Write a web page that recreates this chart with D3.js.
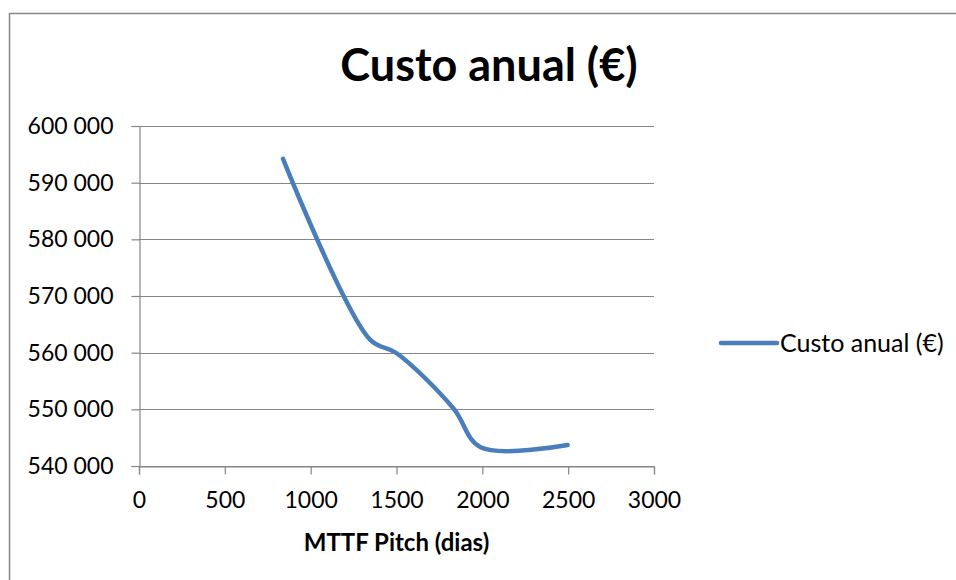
<!DOCTYPE html>
<html>
<head>
<meta charset="utf-8">
<script src="https://cdn.jsdelivr.net/npm/d3@7"></script>
<style>
  html, body { margin: 0; padding: 0; background: #fff; }
  svg { display: block; font-family: Lato, "Open Sans", "Liberation Sans", sans-serif; }
</style>
</head>
<body>
<svg id="chart" width="956" height="580"></svg>
<script>
// Annual cost as a function of the pitch system MTTF
const mttfDays = [839, 1346, 1501, 1831, 1990, 2497];
const annualCost = [594200, 562300, 559900, 550200, 543300, 543700];

const xTicks = [0, 500, 1000, 1500, 2000, 2500, 3000];
const yTicks = [540000, 550000, 560000, 570000, 580000, 590000, 600000];

const chartTitle = "Custo anual (€)";
const seriesName = "Custo anual (€)";
const xTitle = "MTTF Pitch (dias)";

const W = 956, H = 580;
const plot = { left: 139, right: 654, top: 126, bottom: 466 };
const gridColor = "#868686";
const lineColor = "#4a7ebb";

const svg = d3.select("#chart");

// outer chart frame (extends past the right and bottom edges)
svg.append("rect")
  .attr("x", 9.5).attr("y", 13.5)
  .attr("width", W + 20).attr("height", H + 20)
  .attr("fill", "none").attr("stroke", gridColor).attr("stroke-width", 1.5);

const x = d3.scaleLinear().domain([0, 3000]).range([plot.left, plot.right]);
const y = d3.scaleLinear().domain([540000, 600000]).range([plot.bottom, plot.top]);

const fmt = v => d3.format(",")(v).replace(/,/g, " ");

// horizontal gridlines
svg.append("g")
  .selectAll("line")
  .data(yTicks)
  .join("line")
  .attr("x1", plot.left).attr("x2", plot.right)
  .attr("y1", d => Math.round(y(d)) + 0.5).attr("y2", d => Math.round(y(d)) + 0.5)
  .attr("stroke", gridColor).attr("stroke-width", 1.2);

// y axis
const yAxis = svg.append("g")
  .attr("transform", `translate(${plot.left + 0.5},0)`)
  .call(d3.axisLeft(y).tickValues(yTicks).tickFormat(fmt).tickSize(8).tickPadding(18));
yAxis.select(".domain").attr("stroke", gridColor).attr("stroke-width", 1.2);
yAxis.selectAll(".tick line").attr("stroke", gridColor).attr("stroke-width", 1.2);
yAxis.selectAll(".tick text")
  .attr("font-size", 23).attr("fill", "#000")
  .attr("font-family", "Lato, 'Open Sans', sans-serif");

// x axis
const xAxis = svg.append("g")
  .attr("transform", `translate(0,${plot.bottom + 0.5})`)
  .call(d3.axisBottom(x).tickValues(xTicks).tickFormat(d3.format("d")).tickSize(8).tickPadding(17));
xAxis.select(".domain").attr("stroke", gridColor).attr("stroke-width", 1.2);
xAxis.selectAll(".tick line").attr("stroke", gridColor).attr("stroke-width", 1.2);
xAxis.selectAll(".tick text")
  .attr("font-size", 23).attr("fill", "#000")
  .attr("font-family", "Lato, 'Open Sans', sans-serif");

// smoothed series line
const points = mttfDays.map((d, i) => [d, annualCost[i]]);
svg.append("path")
  .datum(points)
  .attr("fill", "none")
  .attr("stroke", lineColor)
  .attr("stroke-width", 4.5)
  .attr("stroke-linecap", "round")
  .attr("stroke-linejoin", "round")
  .attr("d", d3.line().x(d => x(d[0])).y(d => y(d[1])).curve(d3.curveCatmullRom.alpha(0.5)));

// chart title
svg.append("text")
  .attr("x", 489).attr("y", 81)
  .attr("text-anchor", "middle")
  .attr("font-size", 45).attr("font-weight", "bold").attr("fill", "#000")
  .text(chartTitle);

// x axis title
svg.append("text")
  .attr("x", (plot.left + plot.right) / 2).attr("y", 551)
  .attr("text-anchor", "middle")
  .attr("font-size", 24).attr("font-weight", "bold").attr("fill", "#000")
  .text(xTitle);

// legend
const legend = svg.append("g").attr("transform", "translate(721,343)");
legend.append("line")
  .attr("x1", 0).attr("x2", 56).attr("y1", 0).attr("y2", 0)
  .attr("stroke", lineColor).attr("stroke-width", 4.5).attr("stroke-linecap", "round");
legend.append("text")
  .attr("x", 59).attr("y", 0).attr("dy", "0.35em")
  .attr("font-size", 25).attr("fill", "#000")
  .text(seriesName);
</script>
</body>
</html>
